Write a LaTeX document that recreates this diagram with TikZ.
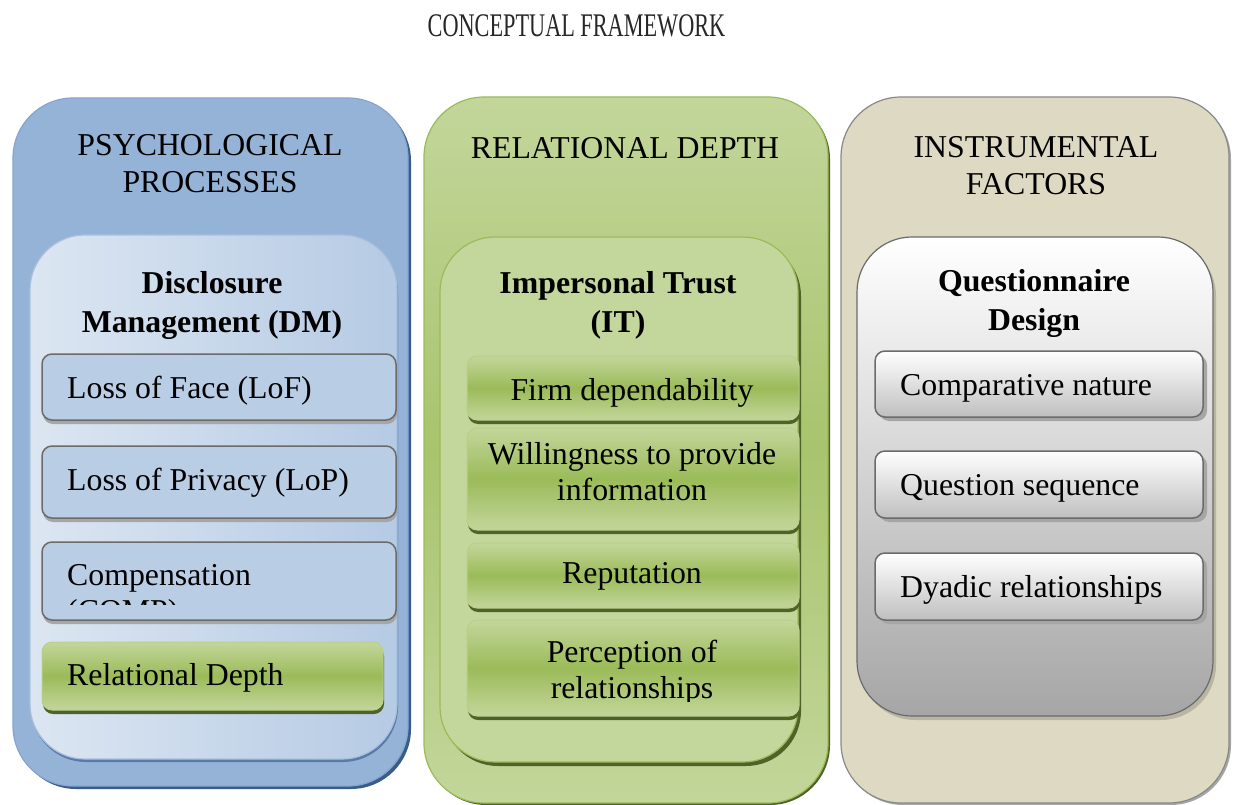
\documentclass[tikz,border=0pt]{standalone}
\usepackage{fontspec}
\setmainfont{Liberation Serif}
\newfontfamily\titlefont[FakeStretch=0.675]{Liberation Serif}
\usetikzlibrary{shadows}
\definecolor{blueFill}{HTML}{95B3D7}
\definecolor{blueLine}{HTML}{86A5CE}
\definecolor{blueDark}{HTML}{385D8A}
\definecolor{blueLight}{HTML}{DCE6F2}
\definecolor{blueMid}{HTML}{B9CDE5}
\definecolor{blueEdge}{HTML}{5A7BA8}
\definecolor{greenFill}{HTML}{C3D69B}
\definecolor{greenLine}{HTML}{9BBB59}
\definecolor{greenMid}{HTML}{A8C46D}
\definecolor{greenDark}{HTML}{4F6228}
\definecolor{tanFill}{HTML}{DDD9C3}
\definecolor{tanShadow}{HTML}{B8B5A2}
\definecolor{boxLine}{HTML}{6B6B6B}
\definecolor{boxShadow}{HTML}{A6A6A6}

\begin{document}
\begin{tikzpicture}[x=1pt, y=-1pt,
    font=\fontsize{31.8}{37}\selectfont,
    sized/.style 2 args={minimum width=#1pt, minimum height=#2pt},
    outerBox/.style={rectangle, rounded corners=60pt, line width=1.2pt, inner sep=0pt},
    innerBox/.style={rectangle, rounded corners=55pt, line width=1.2pt, inner sep=0pt},
    itemBox/.style={rectangle, rounded corners=10pt, line width=1.5pt, inner sep=0pt},
    blueOuter/.style={outerBox, draw=blueLine, fill=blueFill,
      drop shadow={shadow xshift=3pt, shadow yshift=-3pt, fill=blueDark, opacity=1}},
    blueInner/.style={innerBox, draw=blueLine!70, left color=blueLight, right color=blueMid!90!blueFill,
      drop shadow={shadow xshift=1pt, shadow yshift=-3pt, fill=blueEdge, opacity=1}},
    blueItem/.style={itemBox, draw=boxLine, fill=blueMid,
      drop shadow={shadow xshift=1pt, shadow yshift=-4pt, fill=boxShadow, opacity=1}},
    greenOuter/.style={outerBox, draw=greenLine, top color=greenFill, bottom color=greenFill, middle color=greenMid,
      drop shadow={shadow xshift=2pt, shadow yshift=-2pt, fill=greenDark, opacity=1}},
    greenInner/.style={innerBox, draw=greenLine, fill=greenFill,
      drop shadow={shadow xshift=3pt, shadow yshift=-4pt, fill=greenDark, opacity=1}},
    greenItem/.style={itemBox, draw=greenLine!70, line width=1pt, top color=greenFill, bottom color=greenFill, middle color=greenLine,
      drop shadow={shadow xshift=1pt, shadow yshift=-4pt, fill=greenDark, opacity=1}},
    tanOuter/.style={outerBox, draw=boxLine!80, fill=tanFill,
      drop shadow={shadow xshift=2pt, shadow yshift=-2pt, fill=boxShadow, opacity=1}},
    grayInner/.style={innerBox, draw=boxLine, top color=white, bottom color=black!35,
      drop shadow={shadow xshift=3pt, shadow yshift=-4pt, fill=tanShadow, opacity=1}},
    grayItem/.style={itemBox, draw=boxLine, top color=white, bottom color=black!25,
      drop shadow={shadow xshift=4pt, shadow yshift=-4pt, fill=boxShadow, opacity=1}},
    headText/.style={anchor=base, align=center, inner sep=0pt},
    boldText/.style={headText, font=\fontsize{31.8}{39}\selectfont\bfseries},
    leftText/.style={anchor=base west, align=left, inner sep=0pt},
    midText/.style={anchor=base, align=center, inner sep=0pt, font=\fontsize{31.8}{36}\selectfont}]
  \useasboundingbox (0,0) rectangle (1236,805);

  \node [inner sep=0pt, anchor=base, text=black!85] (title) at (576.5,37)
    {\titlefont\fontsize{33}{37}\selectfont CONCEPTUAL FRAMEWORK};

  \node [blueOuter, sized={395}{688}] (psyBox) at (210.5,442) {};
  \node [greenOuter, sized={404}{706}] (relBox) at (626,450) {};
  \node [tanOuter, sized={388}{706}] (insBox) at (1035,450) {};

  \node [headText] (psyHead) at (210,193) {PSYCHOLOGICAL\\PROCESSES};
  \node [headText] (relHead) at (625,159) {RELATIONAL DEPTH};
  \node [headText] (insHead) at (1036,195) {INSTRUMENTAL\\FACTORS};

  \node [blueInner, sized={367}{524}] (dmBox) at (213.5,497) {};
  \node [greenInner, sized={358}{525}] (itBox) at (619,499.5) {};
  \node [grayInner, sized={356}{479}] (qdBox) at (1035,476.5) {};

  \node [boldText] (dmHead) at (212,332) {Disclosure\\Management (DM)};
  \node [boldText] (itHead) at (618,332) {Impersonal Trust\\(IT)};
  \node [boldText] (qdHead) at (1034,330) {Questionnaire\\Design};

  \node [blueItem, sized={354}{66}] (lofBox) at (219,387) {};
  \node [blueItem, sized={354}{72}] (lopBox) at (219,482) {};
  \node [blueItem, sized={354}{78}] (compBox) at (219,581) {};
  \node [greenItem, sized={341}{68}] (rdBox) at (212.5,676) {};
  \node [leftText] (lofText) at (67,398) {Loss of Face (LoF)};
  \node [leftText] (lopText) at (67,490) {Loss of Privacy (LoP)};
  \begin{scope}
    \clip (42,542) rectangle (396,604);
    \node [leftText, font=\fontsize{31.8}{36}\selectfont] (compText) at (67,621) {Compensation\\(COMP)};
  \end{scope}
  \node [leftText] (rdText) at (67,685) {Relational Depth};

  \node [greenItem, sized={332}{64}] (firmBox) at (633,388) {};
  \node [greenItem, sized={332}{102}] (willBox) at (633,479) {};
  \node [greenItem, sized={332}{65}] (repBox) at (633,575.5) {};
  \node [greenItem, sized={332}{96}] (percBox) at (633,668) {};
  \node [midText] (firmText) at (632,400) {Firm dependability};
  \node [midText] (willText) at (632,500) {Willingness to provide\\information};
  \node [midText] (repText) at (632,583) {Reputation};
  \begin{scope}
    \clip (467,620) rectangle (799,701);
    \node [midText] (percText) at (632,698) {Perception of\\relationships};
  \end{scope}

  \node [grayItem, sized={328}{66}] (cnBox) at (1039,384) {};
  \node [grayItem, sized={328}{67}] (qsBox) at (1039,484.5) {};
  \node [grayItem, sized={328}{67}] (dyBox) at (1039,586.5) {};
  \node [leftText] (cnText) at (900,395) {Comparative nature};
  \node [leftText] (qsText) at (900,495) {Question sequence};
  \node [leftText] (dyText) at (900,597) {Dyadic relationships};
\end{tikzpicture}
\end{document}
